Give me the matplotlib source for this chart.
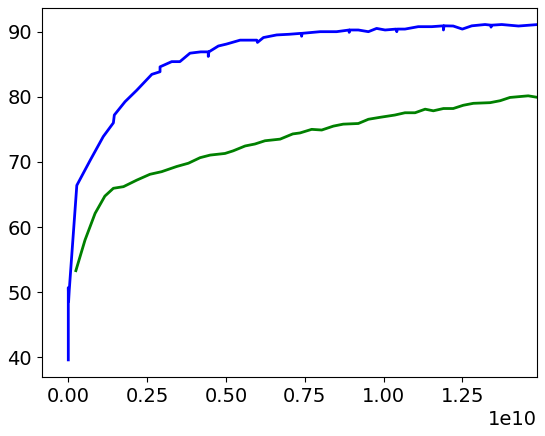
import numpy as np
import matplotlib
matplotlib.use('Agg')
import matplotlib.pyplot as plt

# blue run (duplicate x values are where the curve jumps / ticks)
blue_x = [0.0, 0.0, 0.001, 0.003, 0.027, 0.070, 0.111, 0.143, 0.146, 0.180, 0.217,
          0.265, 0.291, 0.291, 0.328, 0.354, 0.386, 0.420, 0.444, 0.444, 0.446,
          0.476, 0.502, 0.545, 0.575, 0.598, 0.600, 0.619, 0.661, 0.700, 0.740,
          0.740, 0.742, 0.799, 0.851, 0.891, 0.891, 0.893, 0.920, 0.952, 0.978,
          1.005, 1.040, 1.042, 1.044, 1.068, 1.110, 1.153, 1.190, 1.190, 1.192,
          1.221, 1.250, 1.280, 1.322, 1.341, 1.341, 1.343, 1.375, 1.428, 1.490]
blue_y = [39.6, 50.7, 48.6, 50.3, 66.4, 70.3, 73.9, 76.0, 77.2, 79.25, 81.0,
          83.45, 83.85, 84.6, 85.4, 85.4, 86.7, 86.9, 86.9, 86.2, 86.9,
          87.8, 88.1, 88.7, 88.7, 88.7, 88.35, 89.1, 89.5, 89.6, 89.75,
          89.3, 89.75, 90.0, 90.0, 90.26, 89.9, 90.26, 90.26, 90.0, 90.5,
          90.26, 90.4, 90.0, 90.4, 90.4, 90.77, 90.77, 90.9, 90.26, 90.9,
          90.87, 90.4, 90.9, 91.1, 91.0, 90.7, 91.0, 91.1, 90.87, 91.1]

# green run
green_x = [0.024, 0.053, 0.085, 0.116, 0.143, 0.175, 0.217, 0.259, 0.296, 0.344,
           0.381, 0.418, 0.450, 0.497, 0.523, 0.561, 0.592, 0.624, 0.672, 0.712,
           0.735, 0.772, 0.804, 0.841, 0.872, 0.920, 0.952, 0.989, 1.036, 1.068,
           1.100, 1.132, 1.158, 1.190, 1.221, 1.253, 1.285, 1.338, 1.370, 1.401,
           1.459, 1.490]
green_y = [53.3, 58.0, 62.1, 64.75, 65.95, 66.2, 67.2, 68.1, 68.5, 69.3,
           69.8, 70.65, 71.05, 71.3, 71.7, 72.45, 72.75, 73.25, 73.5, 74.3,
           74.45, 75.0, 74.9, 75.5, 75.8, 75.9, 76.55, 76.85, 77.2, 77.55,
           77.55, 78.1, 77.85, 78.2, 78.2, 78.7, 79.0, 79.1, 79.4, 79.9,
           80.15, 79.9]

plt.rcParams['font.size'] = 14

fig = plt.figure(figsize=(5.45, 4.36), dpi=100)
ax = fig.add_subplot(111)
fig.subplots_adjust(left=0.0765, right=0.986, top=0.9817, bottom=0.1353)

ax.plot(np.array(blue_x) * 1e10, blue_y, color='blue', linewidth=2)
ax.plot(np.array(green_x) * 1e10, green_y, color='green', linewidth=2)

ax.set_xlim(-0.0844e10, 1.488e10)
ax.set_xticks(np.arange(0, 1.26e10, 0.25e10))
ax.set_ylim(36.97, 93.64)

fig.savefig('out.png', dpi=100)
